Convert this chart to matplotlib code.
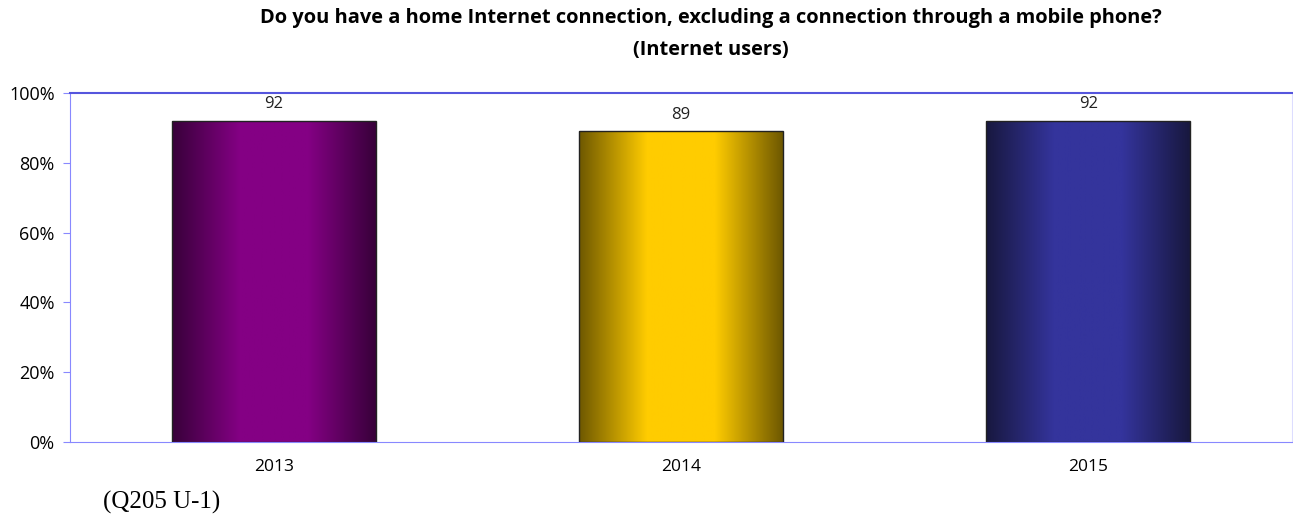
import matplotlib
matplotlib.use("Agg")
import matplotlib.pyplot as plt
import numpy as np
from matplotlib.colors import LinearSegmentedColormap

years = ['2013', '2014', '2015']
values = [92, 89, 92]
edge_colors = ['#38003a', '#6e5800', '#18183f']
center_colors = ['#840084', '#ffcc00', '#34349c']

plt.rcParams['font.family'] = ['Open Sans', 'DejaVu Sans']

fig = plt.figure(figsize=(12.93, 5.16), dpi=100)
ax = fig.add_axes([70 / 1293, 74 / 516, 1222 / 1293, 349 / 516])

x = np.arange(len(years))
bars = ax.bar(x, values, width=0.5, color='none', edgecolor='#222222', linewidth=1.0, zorder=3)

# gradient fill, dark at the edges and bright in the middle
grad = np.linspace(0, 1, 256).reshape(1, -1)
for b, c0, c1 in zip(bars, edge_colors, center_colors):
    cmap = LinearSegmentedColormap.from_list('g', [c0, c1, c1, c0], N=256)
    bx, by = b.get_x(), b.get_y()
    w, h = b.get_width(), b.get_height()
    im = ax.imshow(grad, cmap=cmap, aspect='auto', extent=[bx, bx + w, by, by + h], zorder=2)
    im.set_clip_path(b)
    ax.text(bx + w / 2, h + 2.5, str(int(h)), ha='center', va='bottom', fontsize=12, color='#222222')

ax.set_xlim(-0.5, len(years) - 0.5)
ax.set_ylim(0, 100)
ax.set_xticks(x)
ax.set_xticklabels(years, fontsize=12.5)
ax.set_yticks(range(0, 101, 20))
ax.set_yticklabels([f'{v}%' for v in range(0, 101, 20)], fontsize=13)
ax.tick_params(axis='x', length=0, pad=12)
ax.tick_params(axis='y', length=5, color='#8888ff', pad=6)

ax.spines['left'].set_color('#8888ff')
ax.spines['bottom'].set_color('#8888ff')
ax.spines['top'].set_color('#5555dd')
ax.spines['top'].set_linewidth(1.5)
ax.spines['right'].set_color('#ddddff')

fig.text(711 / 1293, 1 - 18 / 516, 'Do you have a home Internet connection, excluding a connection through a mobile phone?',
         ha='center', va='center', fontsize=14.4, fontweight='bold')
fig.text(711 / 1293, 1 - 50 / 516, '(Internet users)', ha='center', va='center', fontsize=14.4, fontweight='bold')
fig.text(103 / 1293, 1 - 502 / 516, '(Q205 U-1)', ha='left', va='center', fontsize=18,
         family=['Liberation Serif', 'DejaVu Serif'])

plt.savefig('out.png', dpi=100)
plt.close()
